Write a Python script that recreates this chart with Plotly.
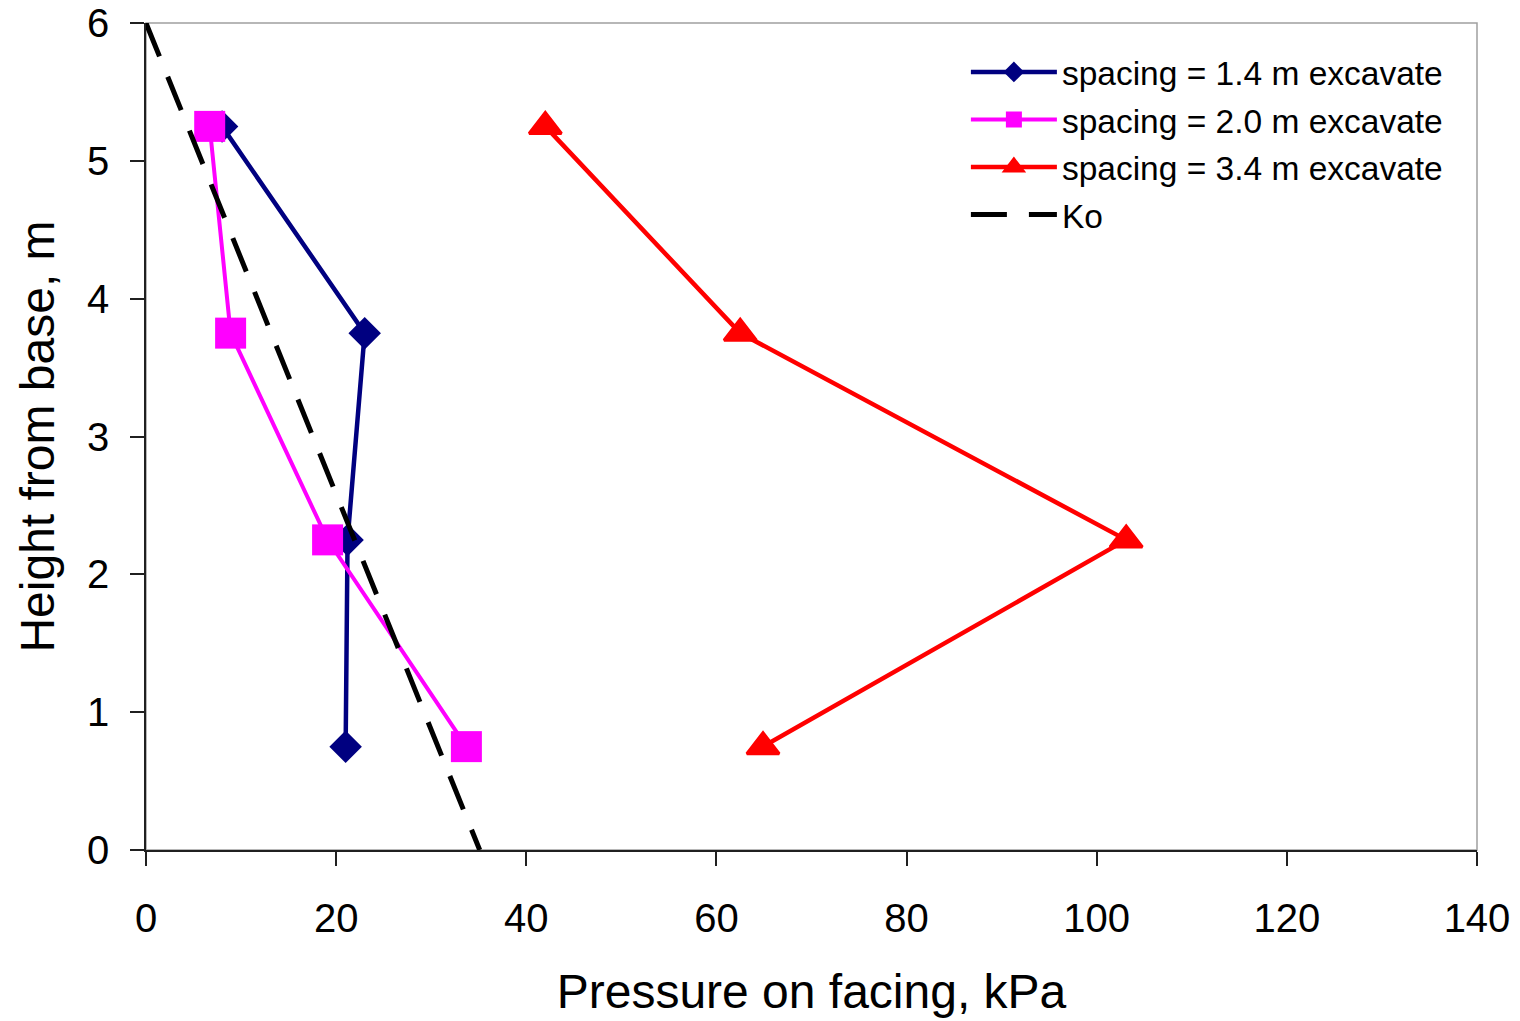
import plotly.graph_objects as go

# Measured earth pressure on the wall facing at four heights above the base
height = [5.25, 3.75, 2.25, 0.75]
pressure_14 = [8.0, 23.0, 21.2, 21.0]
pressure_20 = [6.7, 8.9, 19.1, 33.7]
pressure_34 = [42.0, 62.5, 103.1, 64.9]

# At-rest (Ko) pressure line
ko_height = [6.0, 0.0]
ko_pressure = [0.0, 35.1]

x_ticks = [0, 20, 40, 60, 80, 100, 120, 140]
y_ticks = [0, 1, 2, 3, 4, 5, 6]

FONT = "Liberation Sans, Arial, sans-serif"

fig = go.Figure()

fig.add_trace(go.Scatter(
    x=pressure_14, y=height, mode="lines+markers",
    name="spacing = 1.4 m excavate", legendgroup="a",
    line=dict(color="#000080", width=4.5),
    marker=dict(symbol="diamond", size=25, color="#000080", line=dict(width=0)),
))
fig.add_trace(go.Scatter(
    x=pressure_20, y=height, mode="lines+markers",
    name="spacing = 2.0 m excavate", legendgroup="b",
    line=dict(color="#ff00ff", width=4),
    marker=dict(symbol="square", size=31, color="#ff00ff", line=dict(width=0)),
))
fig.add_trace(go.Scatter(
    x=pressure_34, y=height, mode="lines+markers",
    name="spacing = 3.4 m excavate", legendgroup="c",
    line=dict(color="#ff0000", width=4.5),
    marker=dict(symbol="triangle-up", size=28, color="#ff0000",
                line=dict(width=3, color="#ff0000")),
))
fig.add_trace(go.Scatter(
    x=ko_pressure, y=ko_height, mode="lines",
    name="Ko", legendgroup="d",
    line=dict(color="#000000", width=5, dash="36px,22px"),
))

# light grey frame around the plotting area
fig.add_shape(type="rect", xref="paper", yref="paper", x0=0, y0=0, x1=1, y1=1,
              line=dict(color="#a0a0a0", width=1.5), layer="below")

fig.update_layout(
    width=1520, height=1021,
    margin=dict(l=146, r=43, t=23, b=171),
    paper_bgcolor="white", plot_bgcolor="white",
    font=dict(family=FONT, color="black"),
    showlegend=True,
    legend=dict(
        x=0.616, y=0.975, xanchor="left", yanchor="top",
        font=dict(size=33.5, family=FONT, color="black"),
        bgcolor="rgba(255,255,255,0)", itemwidth=86,
        tracegroupgap=1, traceorder="grouped",
    ),
    xaxis=dict(
        range=[0, 140], tickvals=x_ticks, ticktext=[str(v) for v in x_ticks],
        showgrid=False, zeroline=False,
        showline=True, linecolor="#202020", linewidth=1.5,
        ticks="outside", ticklen=14, tickwidth=1.5, tickcolor="#202020",
        tickfont=dict(size=40, family=FONT, color="black"),
        ticklabelstandoff=18,
        title=dict(text="Pressure on facing, kPa",
                   font=dict(size=48, family=FONT, color="black"), standoff=36),
        automargin=False,
    ),
    yaxis=dict(
        range=[0, 6], tickvals=y_ticks, ticktext=[str(v) for v in y_ticks],
        showgrid=False, zeroline=False,
        showline=True, linecolor="#202020", linewidth=1.5,
        ticks="outside", ticklen=14, tickwidth=1.5, tickcolor="#202020",
        tickfont=dict(size=40, family=FONT, color="black"),
        ticklabelstandoff=13,
        title=dict(text="Height from base, m",
                   font=dict(size=48, family=FONT, color="black"), standoff=17),
        automargin=False,
    ),
)

fig.write_html("out.html")
